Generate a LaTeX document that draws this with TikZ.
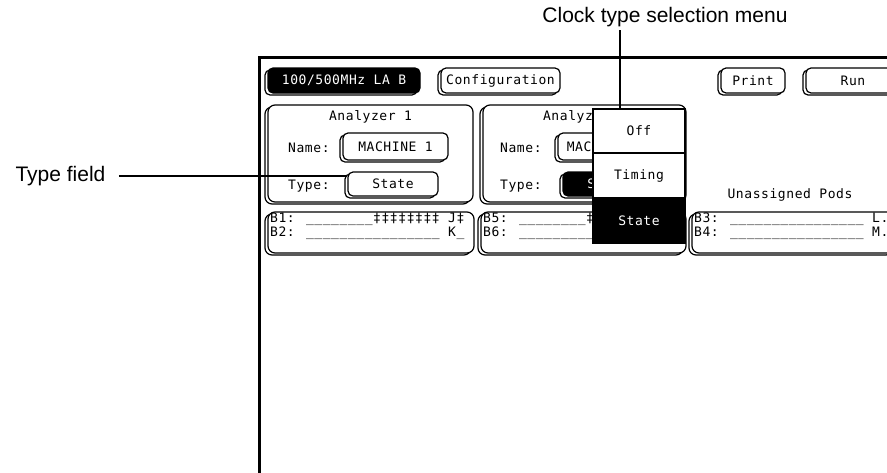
\documentclass[tikz,border=0pt]{standalone}
\usepackage{fontspec}
\usetikzlibrary{positioning,shadows}
\newfontfamily\hpfont{DejaVu Sans Mono}[LetterSpace=4.4]
\newfontfamily\labelfont{Liberation Sans}
\newcommand\uln[1]{\foreach\k in {1,...,#1}{\_}}
\newcommand\dg[1]{\foreach\k in {1,...,#1}{‡}}

\begin{document}
\begin{tikzpicture}[x=1pt, y=-1pt,
    hp/.style={font=\hpfont\fontsize{13}{12}\selectfont},
    lbl/.style={font=\labelfont\fontsize{21}{21}\selectfont},
    shd/.style={drop shadow={shadow xshift=-3pt, shadow yshift=-2pt,
        fill=white, draw=black, line width=1.2pt, opacity=1}},
    btn/.style={hp, shd, draw, line width=1.2pt, rounded corners=5pt,
        fill=white, inner sep=0pt, minimum height=25pt},
    panel/.style={shd, draw, line width=1.2pt, rounded corners=7pt,
        fill=white, inner sep=0pt},
    menuitem/.style={hp, draw, line width=1.2pt, fill=white, outer sep=0pt,
        minimum width=92pt, minimum height=45pt, inner sep=0pt},
    annot/.style={line width=2pt}]
  \useasboundingbox (0,0) rectangle (887,472);
  \clip (0,0) rectangle (887,472);

  % screen frame
  \draw[line width=3pt] (900,57) -- (259,57) -- (259,480);

  \node[btn, minimum width=152pt, fill=black, text=white] (lab) at (344,80.5) {100/500MHz LA B};
  \node[btn, minimum width=119pt] (config) at (500.5,80.5) {Configuration};
  \node[btn, minimum width=64pt] (print) at (753,80.5) {Print};
  \node[btn, minimum width=94pt] (run) at (853,80.5) {Run};

  % analyzer panels
  \node[panel, minimum width=205pt, minimum height=97pt] (an1) at (370.5,153.5) {};
  \node[panel, minimum width=203pt, minimum height=97pt] (an2) at (584.5,153.5) {};
  \node[hp] (an1title) at (370.5,117) {Analyzer 1};
  \node[hp] (an2title) at (584.5,117) {Analyzer 2};
  \node[hp, anchor=west, inner sep=0pt] (name1) at (288,148) {Name:};
  \node[hp, anchor=west, inner sep=0pt] (type1) at (288,186) {Type:};
  \node[hp, anchor=west, inner sep=0pt] (name2) at (500,148) {Name:};
  \node[hp, anchor=west, inner sep=0pt] (type2) at (500,186) {Type:};
  \node[btn, minimum width=105pt, minimum height=27pt] (mach1) at (395.5,146.5) {MACHINE 1};
  \node[btn, minimum width=90pt, minimum height=24pt] (state1) at (393,184) {State};
  \node[btn, minimum width=92pt, minimum height=27pt] (mach2) at (604,146.5) {MACHINE 2};
  \node[btn, minimum width=90pt, minimum height=24pt, fill=black, text=white] (state2) at (608,184) {State};

  % pods
  \node[panel, minimum width=206pt, minimum height=41pt] (pod1) at (371,232.5) {};
  \node[panel, minimum width=205pt, minimum height=41pt] (pod2) at (583.5,232.5) {};
  \node[panel, minimum width=204pt, minimum height=41pt] (pod3) at (794,232.5) {};
  \node[hp, anchor=west, align=left, inner sep=0pt] (pod1txt) at (270,226)
    {B1: \uln{8}\dg{8} J‡\\B2: \uln{16} K\_};
  \node[hp, anchor=west, align=left, inner sep=0pt] (pod2txt) at (483,226)
    {B5: \uln{8}‡\\B6: \uln{16} I\_};
  \node[hp, anchor=west, align=left, inner sep=0pt] (pod3txt) at (694,226)
    {B3: \uln{16} L.\\B4: \uln{16} M.};
  \node[hp] (unassigned) at (790,195) {Unassigned Pods};

  % clock type menu
  \node[menuitem, minimum height=44pt] (moff) at (639,131) {Off};
  \node[menuitem, below=0pt of moff] (mtiming) {Timing};
  \node[menuitem, below=0pt of mtiming, fill=black, text=white] (mstate) {State};

  % callouts
  \node[lbl] (cklabel) at (665,17) {Clock type selection menu};
  \coordinate (ckpt) at ([xshift=-19pt]moff.north);
  \draw[annot] (cklabel.south -| ckpt) -- (ckpt);
  \node[lbl, anchor=west] (tflabel) at (12,176) {Type field};
  \draw[annot] ([xshift=10pt]tflabel.east) -- (tflabel.east -| state1.west);
\end{tikzpicture}
\end{document}
